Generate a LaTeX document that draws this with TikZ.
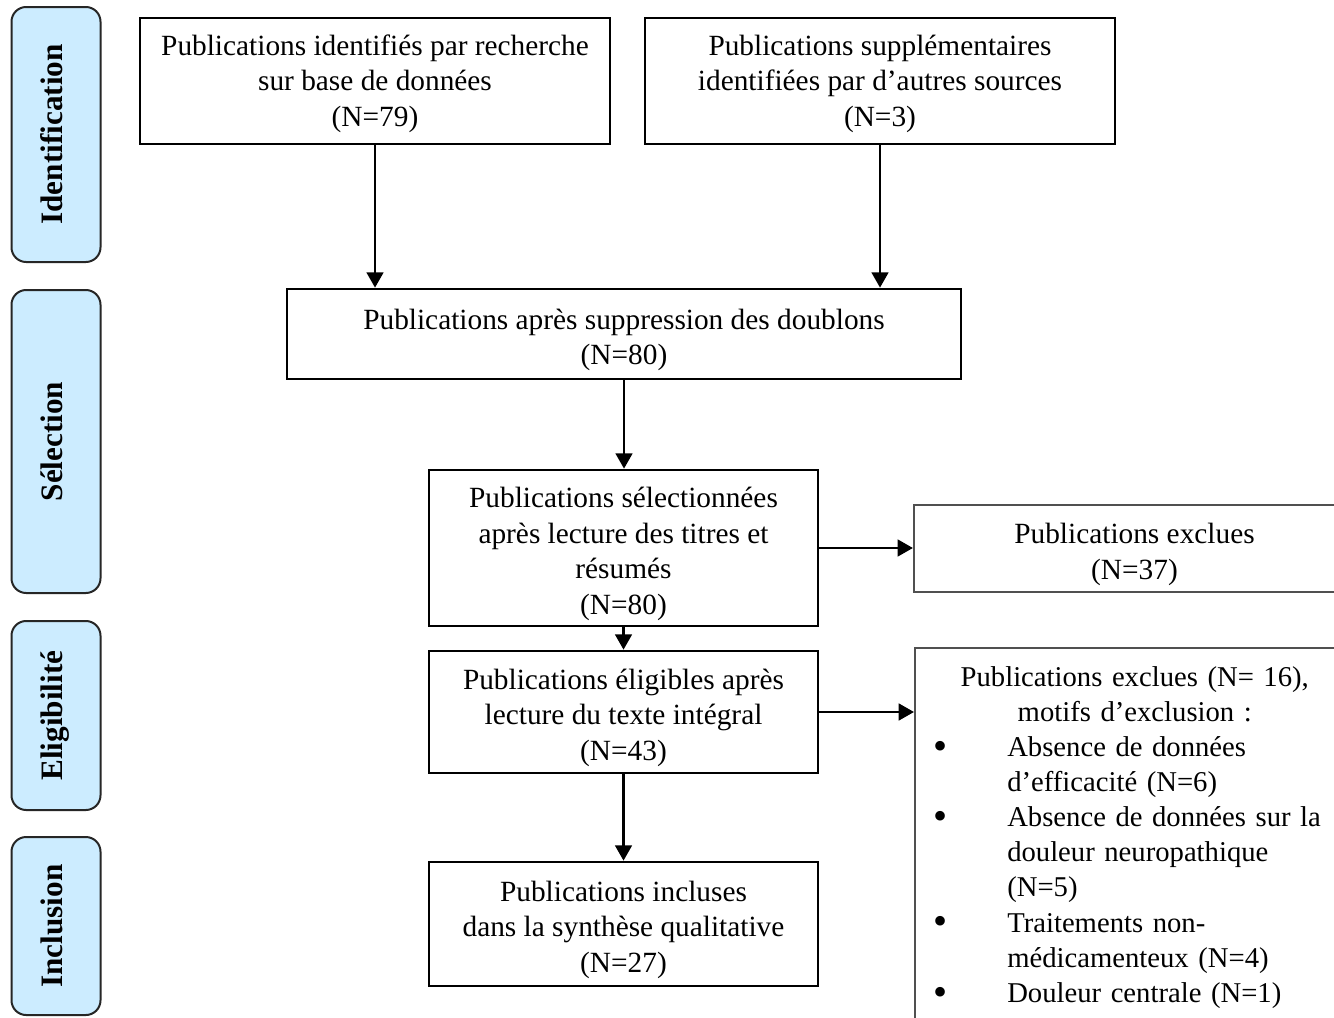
\documentclass[tikz,border=0pt]{standalone}
\usepackage{fontspec}
\usepackage{graphicx}
\setmainfont{Liberation Serif}
\usetikzlibrary{arrows.meta}
\definecolor{barfill}{RGB}{204,236,255}
\definecolor{exgray}{RGB}{80,80,80}
\newcommand{\topa}{\rule{0pt}{19.5pt}}
\newcommand{\topb}{\rule{0pt}{24pt}}
\newcommand{\bul}{\noindent\llap{\raisebox{-2pt}{\scalebox{1.4}{\textbullet}}\hspace{45pt}}}
\begin{document}
\begin{tikzpicture}[x=0.75pt,y=-0.75pt,
  txt/.style={font=\fontsize{22}{26.6}\selectfont},
  mainbox/.style={draw=black, line width=2pt, txt, align=center, inner sep=0pt},
  exbox/.style={draw=exgray, line width=1.6pt, txt, align=center, inner sep=0pt},
  phase/.style={draw=black!85, line width=1.5pt, fill=barfill, rounded corners=11pt, rotate=90,
    minimum height=66.75pt, font=\fontsize{23.4}{28}\selectfont\bfseries,
    text height=16.1pt, text depth=5.85pt, inner sep=0pt},
  arr/.style={line width=2pt, -{Triangle[length=11.5pt,width=12.5pt]}}
]
\clip (0,0) rectangle (1334,1017);
\fill[white] (0,0) rectangle (1334,1017);
% phase bars
\node[phase, minimum width=191.25pt] (p1) at (56,134.5) {Identification\hspace{6pt}};
\node[phase, minimum width=227.25pt] (p2) at (56,441.5) {Sélection};
\node[phase, minimum width=141.75pt] (p3) at (56,715.5) {Eligibilité};
\node[phase, minimum width=133.5pt] (p4) at (56,926) {Inclusion\hspace{3pt}};
% main boxes
\node[mainbox, minimum width=352.5pt, minimum height=94.5pt] (A) at (375,81)
  {\topa Publications identifiés par recherche\\sur base de données\\(N=79)};
\node[mainbox, minimum width=352.5pt, minimum height=94.5pt] (B) at (880,81)
  {\topa Publications supplémentaires\\identifiées par d’autres sources\\(N=3)};
\node[mainbox, minimum width=505.5pt, minimum height=67.5pt] (C) at (624,334)
  {\topb Publications après suppression des doublons\\(N=80)};
\node[mainbox, minimum width=291.75pt, minimum height=117pt] (D) at (623.5,548)
  {\topb Publications sélectionnées\\après lecture des titres et\\résumés\\(N=80)};
\node[mainbox, minimum width=291.75pt, minimum height=91.5pt] (E) at (623.5,712)
  {\topb Publications éligibles après\\lecture du texte intégral\\(N=43)};
\node[mainbox, minimum width=291.75pt, minimum height=93pt] (F) at (623.5,924)
  {\topb Publications incluses\\dans la synthèse qualitative\\(N=27)};
% exclusion boxes
\node[exbox, minimum width=330.75pt, minimum height=65.25pt] (G) at (1134.5,548.5)
  {\topb Publications exclues\\(N=37)};
\node[exbox, minimum width=330.75pt, minimum height=300pt, anchor=north west] (H) at (914,647) {};
\node[anchor=north west, inner sep=0pt, text width=330.75pt, align=left,
      font=\fontsize{21.5}{26.35}\selectfont] (Ht) at (914,666)
  {{\centering Publications exclues (N= 16),\\motifs d’exclusion :\par}
   \leftskip=69.75pt \rightskip=0pt plus 1fil
   \bul Absence de données\\d’efficacité (N=6)\par
   \bul Absence de données sur la\\douleur neuropathique\\(N=5)\par
   \bul Traitements non-\\médicamenteux (N=4)\par
   \bul Douleur centrale (N=1)\par};
% connectors
\draw[arr] (A.south) -- (A.south |- C.north);
\draw[arr] (B.south) -- (B.south |- C.north);
\draw[arr] (C.south) -- (C.south |- D.north);
\draw[arr] (D.south) -- (D.south |- E.north);
\draw[arr] (E.south) -- (E.south |- F.north);
\draw[arr] (D.east) -- (D.east -| G.west);
\draw[arr] (E.east) -- (E.east -| H.west);
\end{tikzpicture}
\end{document}
